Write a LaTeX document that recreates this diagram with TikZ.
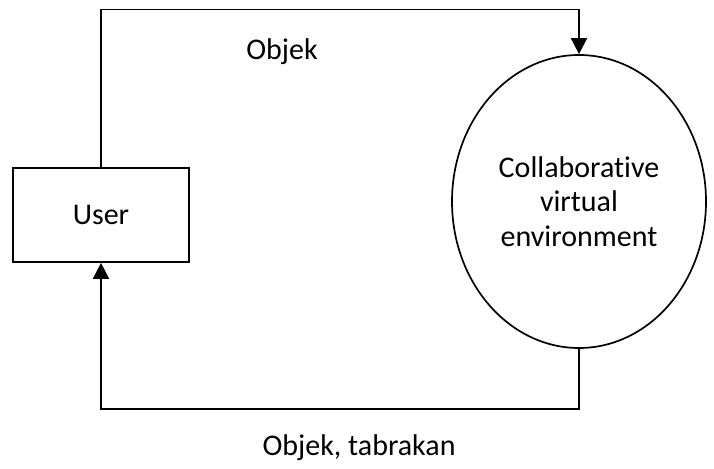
\documentclass[tikz,border=0pt]{standalone}
\usepackage{fontspec}
\setmainfont[Ligatures=NoCommon]{Carlito}
\usetikzlibrary{shapes.geometric,arrows.meta}
\begin{document}
\begin{tikzpicture}[x=1pt,y=-1pt,
  line/.style={line width=1.7pt},
  arr/.style={line,-{Triangle[length=16pt,width=16pt]}},
  lbl/.style={font=\fontsize{30}{35}\selectfont},
  box/.style={draw,line width=1.7pt,minimum width=176pt,minimum height=94pt,inner sep=0pt,font=\fontsize{30}{35}\selectfont},
  circ/.style={draw,line width=1.7pt,ellipse,minimum width=254pt,minimum height=293pt,inner sep=0pt,align=center,font=\fontsize{30}{34.5}\selectfont}]
\useasboundingbox (0,0) rectangle (714,468);
\node[box] (user) at (101,215) {User};
\node[circ] (cve) at (579,201.5) {Collaborative\\virtual\\environment};
\coordinate (c1) at (101,9.5);
\coordinate (c2) at (579,9.5);
\coordinate (c3) at (579,409);
\coordinate (c4) at (101,409);
\draw[arr] (user.north) -- (c1) -- (c2) -- (cve.north);
\draw[arr] (cve.south) -- (c3) -- (c4) -- (user.south);
\node[lbl] (l1) at (282,52) {Objek};
\node[lbl] (l2) at (359,448) {Objek, tabrakan};
\end{tikzpicture}
\end{document}
